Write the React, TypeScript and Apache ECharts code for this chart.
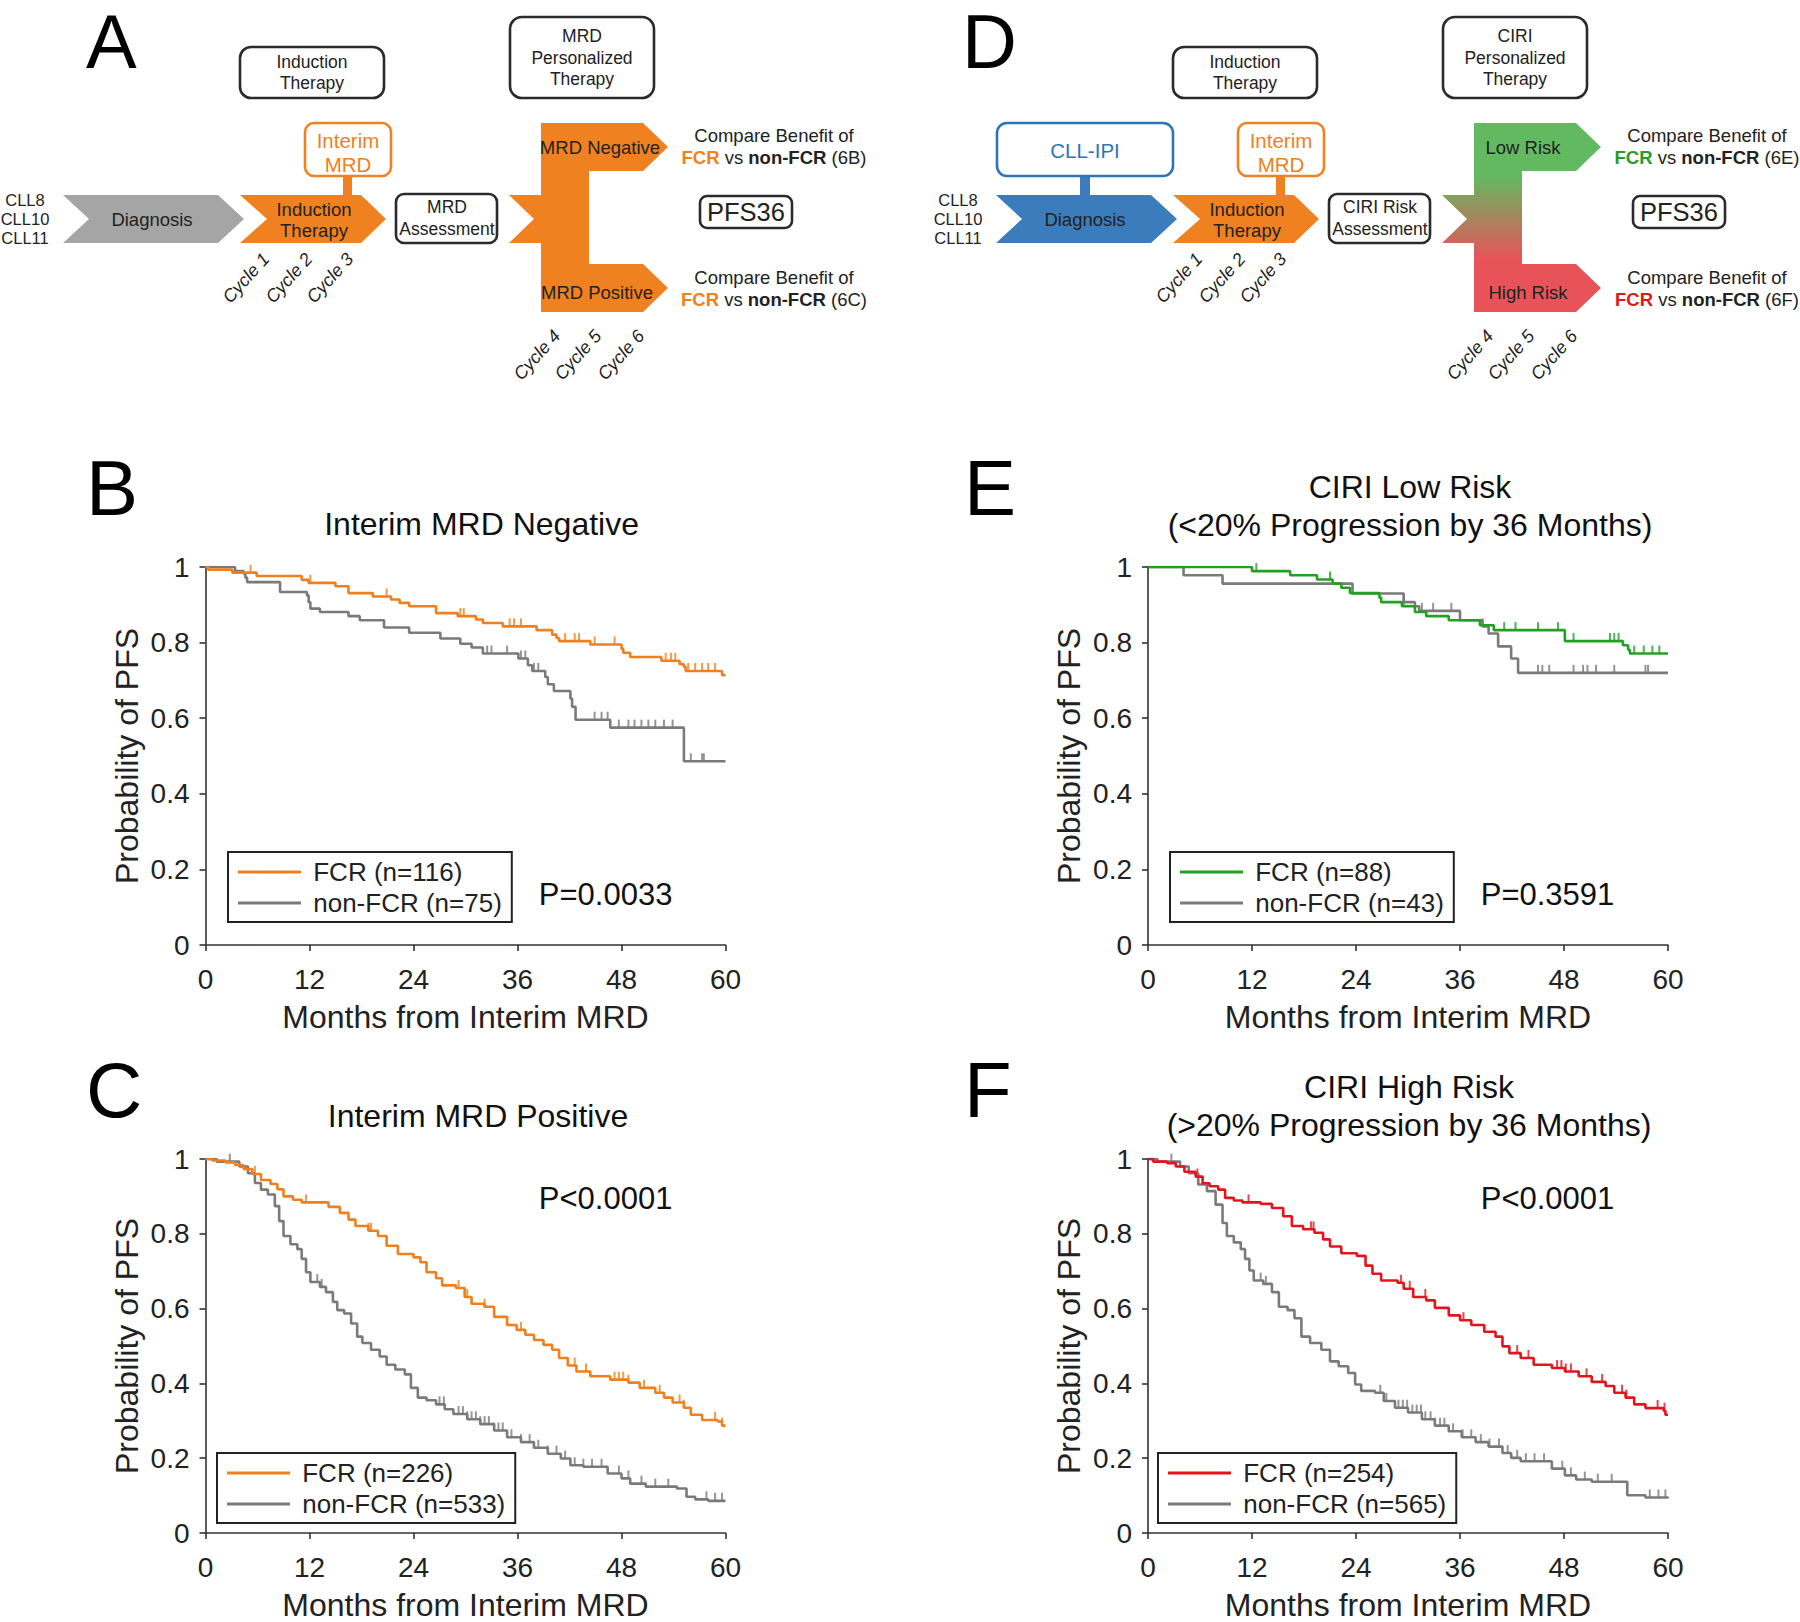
import React, { useEffect, useRef } from "react";
import * as echarts from "echarts";

const FONT = "'Liberation Sans', Arial, Helvetica, sans-serif";

// ---------- axis ticks ----------
const monthTicks = [0, 12, 24, 36, 48, 60];
const probTicks = [0, 0.2, 0.4, 0.6, 0.8, 1];

// ---------- colours ----------
const ORANGE = "#F07F1E";
const GRAY = "#7a7a7a";
const GREEN = "#22a022";
const RED = "#e3141e";

// ---------- Panel B: Interim MRD Negative ----------
const bFcrCurve: [number, number][] = [[0,1],[0.3,0.993],[3.1,0.985],[5.9,0.976],[11.1,0.966],[11.9,0.958],[15.0,0.949],[16.5,0.931],[19.3,0.922],[21.4,0.914],[22.4,0.905],[23.5,0.896],[26.6,0.878],[29.1,0.870],[31.2,0.861],[32.0,0.852],[34.3,0.843],[38.2,0.833],[40.0,0.821],[40.5,0.812],[40.8,0.804],[44.4,0.795],[48.0,0.784],[48.2,0.773],[49.0,0.762],[52.6,0.752],[54.7,0.743],[55.2,0.736],[55.4,0.725],[59.6,0.714],[60,0.714]];
const bFcrCensor = [5.2,12.1,20.9,29.4,29.8,35.1,35.6,36.4,41.5,42.6,43.1,44.9,47.2,53.1,53.7,54.2,55.7,56.5,57.3,58.0,58.8];
const bNonCurve: [number, number][] = [[0,1],[3.4,0.989],[4.4,0.982],[4.6,0.972],[4.8,0.960],[8.6,0.934],[11.7,0.925],[11.9,0.907],[12.1,0.890],[13.2,0.881],[16.5,0.870],[17.8,0.859],[20.6,0.840],[23.5,0.826],[27.1,0.811],[29.4,0.797],[30.7,0.787],[32.0,0.771],[36.1,0.758],[37.2,0.740],[37.7,0.725],[39.2,0.709],[39.5,0.690],[40.2,0.672],[42.1,0.652],[42.3,0.630],[42.7,0.596],[46.7,0.575],[55.2,0.486],[60,0.486]];
const bNonCensor = [32.5,33.0,34.8,36.4,36.9,37.9,38.4,44.9,45.7,46.4,47.7,48.8,49.5,50.3,51.1,51.9,52.9,53.9,56.0,57.3,57.5];

// ---------- Panel C: Interim MRD Positive ----------
const cFcrCurve: [number, number][] = [[0,1],[0.8,0.996],[2.3,0.991],[3.4,0.984],[4.4,0.973],[5.4,0.960],[6.4,0.944],[7.5,0.933],[8.3,0.919],[9.0,0.900],[10.1,0.891],[11.1,0.884],[14.2,0.872],[15.5,0.856],[16.5,0.838],[17.3,0.821],[18.8,0.808],[19.9,0.794],[20.9,0.768],[22.2,0.746],[24.0,0.737],[24.8,0.724],[25.5,0.697],[26.6,0.681],[27.3,0.662],[28.9,0.655],[29.9,0.631],[30.7,0.613],[32.2,0.605],[33.3,0.578],[34.8,0.556],[35.9,0.543],[36.9,0.530],[37.9,0.516],[39.0,0.503],[40.0,0.490],[40.8,0.468],[41.8,0.448],[42.8,0.432],[44.4,0.419],[46.7,0.410],[48.8,0.402],[50.1,0.388],[51.9,0.375],[52.9,0.362],[53.9,0.349],[55.2,0.335],[56.0,0.316],[57.3,0.302],[59.1,0.298],[59.6,0.287],[60,0.287]];
const cFcrCensor = [5.7,11.6,18.8,19.1,29.2,30.2,32.2,36.4,42.6,43.9,47.2,47.7,48.2,48.8,50.6,52.4,54.7,55.2,58.8,59.6];
const cNonCurve: [number, number][] = [[0,1],[1.3,0.993],[3.9,0.980],[4.9,0.962],[5.7,0.936],[6.4,0.918],[7.2,0.905],[8.0,0.874],[8.5,0.834],[9.0,0.794],[9.8,0.772],[10.6,0.759],[11.1,0.733],[11.6,0.697],[12.1,0.671],[13.2,0.658],[13.9,0.644],[14.7,0.618],[15.2,0.596],[16.0,0.587],[16.8,0.560],[17.5,0.525],[18.1,0.508],[19.1,0.490],[20.1,0.472],[20.9,0.450],[21.9,0.437],[23.0,0.424],[23.7,0.388],[24.5,0.362],[25.5,0.355],[26.6,0.344],[27.6,0.331],[28.6,0.318],[30.2,0.304],[31.7,0.291],[33.3,0.274],[34.8,0.256],[36.4,0.243],[37.9,0.228],[39.5,0.212],[41.0,0.199],[42.1,0.181],[43.6,0.177],[46.4,0.159],[48.0,0.146],[49.0,0.132],[50.8,0.124],[54.4,0.119],[55.5,0.097],[56.5,0.090],[58.0,0.086],[60,0.086]];
const cNonCensor = [2.8,12.9,13.4,27.0,27.5,29.2,29.7,30.2,30.7,31.2,31.7,32.2,32.7,33.3,33.8,34.3,35.3,36.4,37.4,38.4,39.5,40.5,41.5,42.6,43.6,44.6,45.7,47.7,48.8,50.3,51.9,53.4,57.8,58.8,59.6];

// ---------- Panel E: CIRI Low Risk ----------
const eFcrCurve: [number, number][] = [[0,1],[12.0,0.989],[16.4,0.978],[19.5,0.967],[21.3,0.956],[22.3,0.945],[23.3,0.931],[26.7,0.919],[26.9,0.907],[29.3,0.896],[30.8,0.881],[32.1,0.870],[34.7,0.859],[38.3,0.846],[39.9,0.833],[48.1,0.804],[54.8,0.793],[55.4,0.781],[55.6,0.771],[60,0.771]];
const eFcrCensor = [12.5,21.0,29.5,36.0,41.1,42.4,45.0,47.3,49.1,53.3,53.8,54.3,56.1,57.2,58.2,59.0];
const eNonCurve: [number, number][] = [[0,1],[4.1,0.978],[8.6,0.956],[23.6,0.930],[29.5,0.907],[30.8,0.896],[31.3,0.884],[36.0,0.859],[38.6,0.843],[39.3,0.824],[40.4,0.790],[41.9,0.758],[42.7,0.720],[60,0.720]];
const eNonCensor = [31.6,32.9,35.0,38.6,45.0,45.5,46.3,49.1,50.2,50.7,51.7,53.8,57.4,57.7];

// ---------- Panel F: CIRI High Risk ----------
const fFcrCurve: [number, number][] = [[0,1],[0.6,0.993],[2.2,0.989],[3.2,0.980],[4.2,0.966],[5.5,0.953],[6.3,0.935],[7.1,0.927],[8.1,0.918],[8.9,0.896],[9.9,0.889],[10.9,0.884],[13.0,0.880],[14.3,0.869],[15.6,0.847],[16.6,0.821],[17.9,0.812],[19.2,0.803],[20.2,0.785],[21.0,0.766],[22.3,0.748],[24.1,0.741],[25.1,0.715],[25.9,0.693],[26.9,0.675],[28.8,0.669],[29.5,0.653],[30.6,0.631],[32.1,0.622],[33.1,0.602],[34.7,0.582],[36.0,0.569],[37.3,0.556],[38.8,0.538],[40.1,0.525],[40.9,0.499],[41.7,0.481],[43.0,0.468],[44.5,0.450],[46.6,0.441],[48.1,0.432],[49.7,0.419],[51.2,0.404],[52.8,0.393],[53.8,0.375],[55.1,0.362],[56.1,0.344],[57.4,0.334],[59.5,0.327],[59.7,0.316],[60,0.316]];
const fFcrCensor = [5.7,11.6,18.8,19.1,29.2,30.2,32.0,36.4,42.6,43.9,47.2,47.7,48.2,48.8,50.6,52.4,54.7,55.2,58.8,59.6];
const fNonCurve: [number, number][] = [[0,1],[1.1,0.993],[3.7,0.980],[4.7,0.962],[5.8,0.932],[6.8,0.914],[7.8,0.878],[8.6,0.829],[9.1,0.794],[9.9,0.777],[10.7,0.759],[11.2,0.733],[11.7,0.702],[12.2,0.675],[13.3,0.666],[14.3,0.644],[15.1,0.605],[16.1,0.596],[16.9,0.574],[17.7,0.525],[18.7,0.508],[20.0,0.490],[21.0,0.459],[22.0,0.446],[23.1,0.428],[23.9,0.397],[24.6,0.380],[26.2,0.375],[27.2,0.353],[28.5,0.335],[30.0,0.322],[31.6,0.304],[33.1,0.287],[34.7,0.272],[36.2,0.256],[37.8,0.243],[39.3,0.231],[40.9,0.214],[41.9,0.201],[43.0,0.192],[46.6,0.172],[48.1,0.154],[49.4,0.143],[51.2,0.137],[55.3,0.101],[57.4,0.095],[60,0.093]];
const fNonCensor = [2.7,13.0,13.6,26.8,27.5,28.9,29.4,29.9,30.5,31.0,31.5,32.0,32.6,33.1,33.7,34.2,35.2,36.3,37.3,38.4,39.4,40.5,41.5,42.6,43.6,44.6,45.7,47.8,48.8,50.4,51.9,53.5,57.9,58.9,59.7];

// ---------- labels ----------
const panelTitles = [
  ["Interim MRD Negative"],
  ["Interim MRD Positive"],
  ["CIRI Low Risk", "(<20% Progression by 36 Months)"],
  ["CIRI High Risk", "(>20% Progression by 36 Months)"],
];
const fcrNames = ["FCR (n=116)", "FCR (n=226)", "FCR (n=88)", "FCR (n=254)"];
const nonNames = ["non-FCR (n=75)", "non-FCR (n=533)", "non-FCR (n=43)", "non-FCR (n=565)"];
const pValues = ["P=0.0033", "P<0.0001", "P=0.3591", "P<0.0001"];
const fcrColors = [ORANGE, ORANGE, GREEN, RED];

const fcrCurves = [bFcrCurve, cFcrCurve, eFcrCurve, fFcrCurve];
const fcrCensors = [bFcrCensor, cFcrCensor, eFcrCensor, fFcrCensor];
const nonCurves = [bNonCurve, cNonCurve, eNonCurve, fNonCurve];
const nonCensors = [bNonCensor, cNonCensor, eNonCensor, fNonCensor];

// ---------- layout (pixels) ----------
const gridLayout = [
  { left: 205.5, top: 567, letter: "B", lx: 86, ly: 488, legLeft: 228, legTop: 852, px: 605.6, py: 894, tx: 481.6, ty: [523.5] },
  { left: 205.5, top: 1159, letter: "C", lx: 86, ly: 1090, legLeft: 217, legTop: 1453, px: 605.6, py: 1198.5, tx: 478, ty: [1116] },
  { left: 1148, top: 567, letter: "E", lx: 964, ly: 488, legLeft: 1170, legTop: 852, px: 1547.5, py: 894, tx: 1410, ty: [486.7, 524.6] },
  { left: 1148, top: 1159, letter: "F", lx: 964, ly: 1090, legLeft: 1158, legTop: 1453, px: 1547.5, py: 1198.5, tx: 1409, ty: [1087, 1125] },
];
const GRID_W = 520;
const GRID_H = 378;

function survAt(curve: [number, number][], t: number) {
  let s = curve[0][1];
  for (const [tt, ss] of curve) {
    if (tt <= t) s = ss;
    else break;
  }
  return s;
}

function txt(x: number, y: number, t: string, o: any = {}, extra: any = {}) {
  return {
    type: "text",
    x,
    y,
    silent: true,
    ...extra,
    style: {
      text: t,
      fontSize: 18.5,
      fontFamily: FONT,
      fill: "#222",
      align: "center",
      verticalAlign: "middle",
      textAlign: "center",
      textVerticalAlign: "middle",
      ...o,
    },
  };
}

function buildDiagram(ox: number, isD: boolean) {
  const X = (x: number) => x + ox;
  const els: any[] = [];
  const poly = (pts: number[][], fill: any) => ({
    type: "polygon",
    silent: true,
    shape: { points: pts.map(([x, y]) => [X(x), y]) },
    style: { fill },
  });
  const box = (x: number, y: number, w: number, h: number, stroke: string, r = 10) => ({
    type: "rect",
    silent: true,
    shape: { x: X(x), y, width: w, height: h, r },
    style: { fill: "#fff", stroke, lineWidth: 2.6 },
  });
  const chev = (x0: number, x1: number, notch: number, sh: number) => [
    [x0, 195], [sh, 195], [x1, 219], [sh, 243], [x0, 243], [notch, 219],
  ];
  const BLUE = "#3a7cbc";
  const ORG = "#f08120";
  const GR = "#63b960";
  const RD = "#e8535a";

  // cohorts
  ["CLL8", "CLL10", "CLL11"].forEach((s, i) => els.push(txt(X(25), 200 + i * 19, s, { fontSize: 16.5 })));

  // CLL-IPI (D only)
  if (isD) {
    els.push({ type: "rect", silent: true, shape: { x: X(147), y: 174, width: 10, height: 23 }, style: { fill: BLUE } });
    els.push(box(64, 123, 176, 53, "#2e75b6", 10));
    els.push(txt(X(152), 150, "CLL-IPI", { fontSize: 20.5, fill: "#2e75b6" }));
  }
  // diagnosis chevron
  els.push(poly(chev(63, 244, 89, 218), isD ? BLUE : "#a5a5a5"));
  els.push(txt(X(152), 219, "Diagnosis"));
  // induction chevron
  els.push({ type: "rect", silent: true, shape: { x: X(343), y: 174, width: 9, height: 23 }, style: { fill: ORG } });
  els.push(poly(chev(240, 386, 267, 361), ORG));
  els.push(txt(X(314), 209, "Induction"));
  els.push(txt(X(314), 230, "Therapy"));
  // interim MRD box
  els.push(box(305, 123, 86, 53, ORG, 9));
  els.push(txt(X(348), 140, "Interim", { fontSize: 20.5, fill: ORG }));
  els.push(txt(X(348), 164, "MRD", { fontSize: 20.5, fill: ORG }));
  // induction top box
  els.push(box(240, 47, 144, 51, "#2b2b2b", 11));
  els.push(txt(X(312), 62, "Induction", { fontSize: 17.5 }));
  els.push(txt(X(312), 83, "Therapy", { fontSize: 17.5 }));
  // assessment box
  els.push(box(396, 194, 101, 49, "#2b2b2b", 8));
  els.push(txt(X(447), 207, isD ? "CIRI Risk" : "MRD", { fontSize: 17.5 }));
  els.push(txt(X(447), 229, "Assessment", { fontSize: 17.5 }));
  // personalized therapy box
  els.push(box(510, 17, 144, 81, "#2b2b2b", 12));
  els.push(txt(X(582), 36, isD ? "CIRI" : "MRD", { fontSize: 17.5 }));
  els.push(txt(X(582), 58, "Personalized", { fontSize: 17.5 }));
  els.push(txt(X(582), 79, "Therapy", { fontSize: 17.5 }));
  // branching shape
  const fill = isD
    ? new echarts.graphic.LinearGradient(0, 0, 0, 1, [
        { offset: 0, color: GR },
        { offset: 0.28, color: GR },
        { offset: 0.72, color: RD },
        { offset: 1, color: RD },
      ])
    : ORG;
  els.push(
    poly(
      [
        [541, 123], [643, 123], [668, 147], [643, 171], [589, 171], [589, 264], [643, 264], [668, 288],
        [643, 312], [541, 312], [541, 243], [509, 243], [534, 219], [509, 195], [541, 195],
      ],
      fill
    )
  );
  els.push(txt(X(isD ? 590 : 600), 147, isD ? "Low Risk" : "MRD Negative"));
  els.push(txt(X(isD ? 595 : 597), 292, isD ? "High Risk" : "MRD Positive"));
  // compare texts
  const fcrCol1 = isD ? "#2a9a2a" : ORG;
  const fcrCol2 = isD ? "#e01818" : ORG;
  const rich = (c: string) => ({
    f: { fill: c, color: c, fontWeight: "bold", fontSize: 18.5, fontFamily: FONT },
    b: { fill: "#222", color: "#222", fontWeight: "bold", fontSize: 18.5, fontFamily: FONT },
    n: { fill: "#222", color: "#222", fontSize: 18.5, fontFamily: FONT },
  });
  els.push(txt(X(774), 135, "Compare Benefit of"));
  els.push(txt(X(774), 157, `{f|FCR}{n| vs }{b|non-FCR}{n| (6${isD ? "E" : "B"})}`, { rich: rich(fcrCol1) }));
  els.push(txt(X(774), 277, "Compare Benefit of"));
  els.push(txt(X(774), 299, `{f|FCR}{n| vs }{b|non-FCR}{n| (6${isD ? "F" : "C"})}`, { rich: rich(fcrCol2) }));
  // PFS36
  els.push(box(700, 196, 92, 32, "#2b2b2b", 7));
  els.push(txt(X(746), 212, "PFS36", { fontSize: 25.5 }));
  // cycles
  const cyc = [[246, 278], [289, 278], [330, 278], [537, 355], [578, 355], [621, 355]];
  cyc.forEach(([x, y], i) =>
    els.push(txt(X(x), y, `Cycle ${i + 1}`, { fontSize: 18, fontStyle: "italic" }, { rotation: (48 * Math.PI) / 180 }))
  );
  return els;
}

export default function App() {
  const ref = useRef<HTMLDivElement>(null);
  useEffect(() => {
    if (!ref.current) return;
    const chart = echarts.init(ref.current, undefined, { renderer: "svg" });

    const grid: any[] = [];
    const xAxis: any[] = [];
    const yAxis: any[] = [];
    const series: any[] = [];
    const legend: any[] = [];
    const graphics: any[] = [];

    gridLayout.forEach((g, i) => {
      grid.push({ left: g.left, top: g.top, width: GRID_W, height: GRID_H, containLabel: false });
      xAxis.push({
        type: "value",
        gridIndex: i,
        min: monthTicks[0],
        max: monthTicks[monthTicks.length - 1],
        interval: monthTicks[1] - monthTicks[0],
        name: "Months from Interim MRD",
        nameLocation: "middle",
        nameGap: 56,
        nameTextStyle: { fontSize: 32, color: "#222", fontFamily: FONT },
        axisLine: { show: true, onZero: false, lineStyle: { color: "#333", width: 1.6 } },
        axisTick: { show: true, length: 6, lineStyle: { color: "#333", width: 1.6 } },
        axisLabel: { fontSize: 28, color: "#222", margin: 20, fontFamily: FONT },
        splitLine: { show: false },
      });
      yAxis.push({
        type: "value",
        gridIndex: i,
        min: probTicks[0],
        max: probTicks[probTicks.length - 1],
        interval: probTicks[1] - probTicks[0],
        name: "Probability of PFS",
        nameLocation: "middle",
        nameGap: 63,
        nameTextStyle: { fontSize: 32, color: "#222", fontFamily: FONT },
        axisLine: { show: true, onZero: false, lineStyle: { color: "#333", width: 1.6 } },
        axisTick: { show: true, length: 6, lineStyle: { color: "#333", width: 1.6 } },
        axisLabel: { fontSize: 28, color: "#222", margin: 16, fontFamily: FONT },
        splitLine: { show: false },
      });

      const col = fcrColors[i];
      series.push({
        type: "line",
        name: nonNames[i],
        xAxisIndex: i,
        yAxisIndex: i,
        data: nonCurves[i],
        step: "end",
        showSymbol: false,
        symbol: "none",
        lineStyle: { color: GRAY, width: 2.6 },
        itemStyle: { color: GRAY },
        silent: true,
      });
      series.push({
        type: "scatter",
        name: nonNames[i] + " censored",
        xAxisIndex: i,
        yAxisIndex: i,
        data: nonCensors[i].map((t) => [t, survAt(nonCurves[i], t)]),
        symbol: "rect",
        symbolSize: [2, 8],
        symbolOffset: [0, -4],
        itemStyle: { color: GRAY },
        silent: true,
      });
      series.push({
        type: "line",
        name: fcrNames[i],
        xAxisIndex: i,
        yAxisIndex: i,
        data: fcrCurves[i],
        step: "end",
        showSymbol: false,
        symbol: "none",
        lineStyle: { color: col, width: 2.6 },
        itemStyle: { color: col },
        silent: true,
      });
      series.push({
        type: "scatter",
        name: fcrNames[i] + " censored",
        xAxisIndex: i,
        yAxisIndex: i,
        data: fcrCensors[i].map((t) => [t, survAt(fcrCurves[i], t)]),
        symbol: "rect",
        symbolSize: [2, 8],
        symbolOffset: [0, -4],
        itemStyle: { color: col },
        silent: true,
      });

      legend.push({
        data: [fcrNames[i], nonNames[i]],
        orient: "vertical",
        left: g.legLeft,
        top: g.legTop,
        padding: [7, 10, 6, 10],
        itemGap: 5,
        itemWidth: 63,
        itemHeight: 3,
        icon: "rect",
        borderColor: "#222",
        borderWidth: 2,
        backgroundColor: "#fff",
        selectedMode: false,
        formatter: (name: string) => " " + name,
        textStyle: { fontSize: 26, color: "#222", lineHeight: 26, fontFamily: FONT },
      });

      // panel letter
      graphics.push(txt(g.lx, g.ly, g.letter, { fontSize: 78, lineHeight: 78, fill: "#000", align: "left", textAlign: "left" }));
      // title lines
      panelTitles[i].forEach((line, k) =>
        graphics.push(txt(g.tx, g.ty[k], line, { fontSize: 32, fill: "#111" }))
      );
      // p value
      graphics.push(txt(g.px, g.py, pValues[i], { fontSize: 31, fill: "#111" }));
    });

    graphics.push(txt(86, 41, "A", { fontSize: 76, lineHeight: 76, fill: "#000", align: "left", textAlign: "left" }));
    graphics.push(txt(962, 41, "D", { fontSize: 76, lineHeight: 76, fill: "#000", align: "left", textAlign: "left" }));
    graphics.push(...buildDiagram(0, false));
    graphics.push(...buildDiagram(933, true));

    chart.setOption({
      animation: false,
      backgroundColor: "#fff",
      textStyle: { fontFamily: FONT },
      grid,
      xAxis,
      yAxis,
      legend,
      series,
      graphic: { elements: graphics },
    });
    return () => chart.dispose();
  }, []);
  return (
    <div
      ref={ref}
      style={{ position: "absolute", left: 0, top: 0, width: 1800, height: 1622, background: "#fff" }}
    />
  );
}
